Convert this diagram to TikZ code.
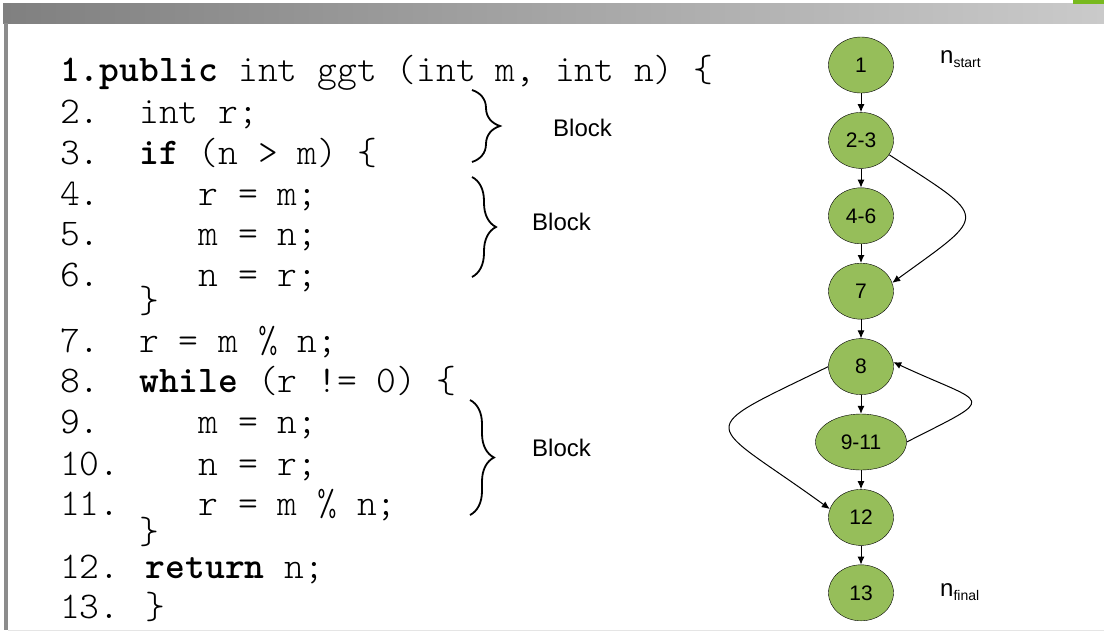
\documentclass[tikz,border=0pt]{standalone}
\usepackage{fontspec}
\setmainfont{Liberation Sans}
\newfontfamily\codefam{lmmonolt10-regular.otf}[BoldFont=lmmonolt10-bold.otf]
\usepackage{tikz}
\usetikzlibrary{positioning, shapes.geometric, arrows.meta, decorations.pathreplacing}

\definecolor{cfggreen}{RGB}{150,190,90}
\definecolor{barleft}{RGB}{128,128,128}
\definecolor{barright}{RGB}{202,202,202}
\definecolor{framegray}{RGB}{140,140,140}
\definecolor{logogreen}{RGB}{120,185,30}

\newcommand{\codefont}{\fontsize{37.7}{44}\selectfont\codefam}

\begin{document}
\begin{tikzpicture}[x=1pt, y=1pt, node distance=19pt,
    cfgnode/.style={ellipse, draw=black, fill=cfggreen, minimum width=65pt, minimum height=56pt, inner sep=0pt, font=\fontsize{21}{21}\selectfont},
    codeline/.style={anchor=base west, inner sep=0pt, font=\codefont},
    blocklabel/.style={anchor=west, inner sep=0pt, font=\fontsize{24}{24}\selectfont},
    arrow/.style={-{Latex[length=8pt, width=7pt]}, line width=1pt},
    bracket/.style={decorate, decoration={brace, amplitude=#1}, line width=1.8pt},
    bracket/.default=24pt]

    \useasboundingbox (0,0) rectangle (1104,-633);
    \fill[white] (0,0) rectangle (1104,-633);

    % Frame
    \shade[left color=barleft, right color=barright] (3,-3) rectangle (1104,-23);
    \fill[logogreen] (1073,0) rectangle (1104,-4);
    \fill[framegray] (4,-23) rectangle (8,-630);
    \draw[gray!20] (8,-630) -- (1104,-630);

    % Code
    \node[codeline] (l1) at (60,-81) {\textbf{1.public} int ggt (int m, int n) \{};
    \node[codeline] (l2) at (60,-123) {2.~~int r;};
    \node[codeline] (l3) at (60,-164) {3.~~\textbf{if} (n > m) \{};
    \node[codeline] (l4) at (60,-205) {4.~~~~~r = m;};
    \node[codeline] (l5) at (60,-245) {5.~~~~~m = n;};
    \node[codeline] (l6) at (60,-286) {6.~~~~~n = r;};
    \node[codeline] (cb1) at (60,-312) {~~~~\}};
    \node[codeline] (l7) at (60,-352) {7.~~r = m \% n;};
    \node[codeline] (l8) at (60,-392) {8.~~\textbf{while} (r != 0) \{};
    \node[codeline] (l9) at (60,-433) {9.~~~~~m = n;};
    \node[codeline] (l10) at (60,-475) {10.~~~~n = r;};
    \node[codeline] (l11) at (60,-515) {11.~~~~r = m \% n;};
    \node[codeline] (cb2) at (60,-543) {~~~~\}};
    \node[codeline] (l12) at (60,-578) {12. \textbf{return} n;};
    \node[codeline] (l13) at (60,-618) {13. \}};

    % Blocks
    \draw[bracket=28pt] (472,-90) -- (472,-162);
    \draw[bracket] (472,-177) -- (472,-277);
    \draw[bracket] (470,-400) -- (470,-515);
    \node[blocklabel] (b1) at (553,-128) {Block};
    \node[blocklabel] (b2) at (532,-222) {Block};
    \node[blocklabel] (b3) at (532,-448) {Block};

    % Nodes
    \node[cfgnode] (n1) at (861,-65) {1};
    \node[cfgnode, below=of n1] (n23) {2-3};
    \node[cfgnode, below=of n23] (n46) {4-6};
    \node[cfgnode, below=of n46] (n7) {7};
    \node[cfgnode, below=of n7] (n8) {8};
    \node[cfgnode, below=of n8, minimum width=91pt] (n911) {9-11};
    \node[cfgnode, below=of n911] (n12) {12};
    \node[cfgnode, below=of n12] (n13) {13};

    \node[anchor=base west, inner sep=0pt, font=\fontsize{24}{24}\selectfont] (nstart) at (940,-63) {n\raisebox{-4pt}{\fontsize{14}{14}\selectfont start}};
    \node[anchor=base west, inner sep=0pt, font=\fontsize{24}{24}\selectfont] (nfinal) at (940,-596) {n\raisebox{-4pt}{\fontsize{14}{14}\selectfont final}};

    % Arrows
    \draw[arrow] (n1) -- (n23);
    \draw[arrow] (n23) -- (n46);
    \draw[arrow] (n46) -- (n7);
    \draw[arrow] (n7) -- (n8);
    \draw[arrow] (n8) -- (n911);
    \draw[arrow] (n911) -- (n12);
    \draw[arrow] (n12) -- (n13);

    % Curved Arrows
    \draw[arrow] (n23.-27) .. controls +(-33:120) and +(36:120) .. (n7.15);
    \draw[arrow] (n911.east) .. controls +(27:105) and +(-25:105) .. (n8.8);
    \draw[arrow] (n8.west) .. controls +(206:155) and +(144:155) .. (n12.165);

\end{tikzpicture}
\end{document}
